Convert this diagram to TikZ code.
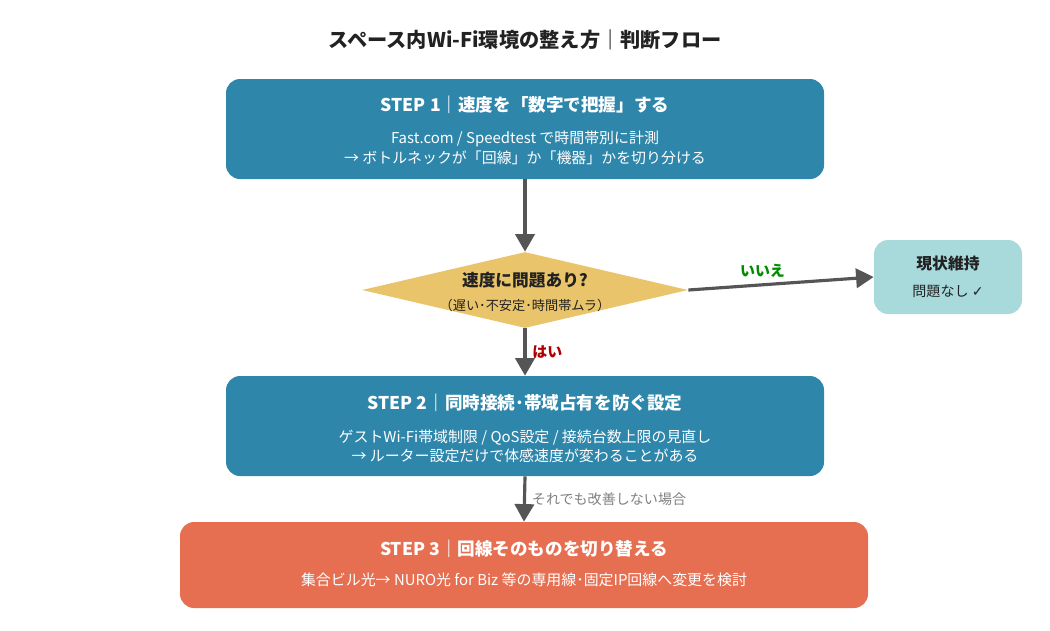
\documentclass[tikz,border=0pt]{standalone}
\usepackage{fontspec}
\setmainfont{Noto Sans CJK JP}
\newfontfamily\symfont{DejaVu Sans}
\usetikzlibrary{arrows.meta,shapes.geometric}
\definecolor{stepblue}{HTML}{2E86AB}
\definecolor{steporange}{HTML}{E76F51}
\definecolor{decyellow}{HTML}{E9C46A}
\definecolor{okcyan}{HTML}{A8DADC}
\definecolor{arrowgray}{HTML}{555555}
\definecolor{titledark}{HTML}{222222}
\begin{document}
\begin{tikzpicture}[x=0.02cm,y=-0.02cm,
  stepbox/.style={rounded corners=8pt, fill=stepblue, text=white, align=center, inner sep=0pt},
  flow/.style={draw=arrowgray, line width=1.8pt, -{Triangle[length=10pt,width=11pt]}},
  lbl/.style={font=\fontsize{8}{10}\selectfont}
]
\useasboundingbox (0,0) rectangle (1050,630);

% Title
\node[font=\fontsize{11.5}{14}\selectfont\bfseries, text=titledark] (title) at (525,40) {スペース内Wi-Fi環境の整え方｜判断フロー};

% Step boxes
\node[stepbox, minimum width=598*0.02cm, minimum height=100*0.02cm] (s1) at (525,129) {};
\node[font=\fontsize{10}{12}\selectfont\bfseries, text=white] at (525,105) {STEP 1｜速度を「数字で把握」する};
\node[font=\fontsize{8.5}{11}\selectfont, text=white, align=center] at (525,148) {Fast.com / Speedtest で時間帯別に計測\\→ ボトルネックが「回線」か「機器」かを切り分ける};

\node[shape=diamond, fill=decyellow, minimum width=326*0.02cm, minimum height=76*0.02cm, inner sep=0pt, aspect=4.3] (q) at (525,290) {};
\node[font=\fontsize{9.5}{12}\selectfont\bfseries, text=titledark] at (525,280) {速度に問題あり?};
\node[font=\fontsize{7.5}{10}\selectfont, text=titledark] at (525,305) {（遅い･不安定･時間帯ムラ）};

\node[rounded corners=8pt, fill=okcyan, minimum width=148*0.02cm, minimum height=74*0.02cm] (ok) at (948,277) {};
\node[font=\fontsize{9}{11}\selectfont\bfseries, text=titledark] at (948,264) {現状維持};
\node[font=\fontsize{8}{10}\selectfont, text=titledark] at (948,291) {問題なし {\symfont ✓}};

\node[stepbox, minimum width=598*0.02cm, minimum height=100*0.02cm] (s2) at (525,426) {};
\node[font=\fontsize{10}{12}\selectfont\bfseries, text=white] at (525,403) {STEP 2｜同時接続･帯域占有を防ぐ設定};
\node[font=\fontsize{8.5}{11}\selectfont, text=white, align=center] at (525,446) {ゲストWi-Fi帯域制限 / QoS設定 / 接続台数上限の見直し\\→ ルーター設定だけで体感速度が変わることがある};

\node[stepbox, fill=steporange, minimum width=688*0.02cm, minimum height=86*0.02cm] (s3) at (524,565) {};
\node[font=\fontsize{10}{12}\selectfont\bfseries, text=white] at (524,549) {STEP 3｜回線そのものを切り替える};
\node[font=\fontsize{8.5}{11}\selectfont, text=white] at (524,580) {集合ビル光→ NURO光 for Biz 等の専用線･固定IP回線へ変更を検討};

% Connectors
\draw[flow] (s1.south) -- (q.north);
\draw[flow] (q.east) -- (ok.west) node[pos=0.4, above, font=\fontsize{8.5}{10}\selectfont\bfseries, text=green!55!black] {いいえ};
\draw[flow] (q.south) -- (s2.north) node[midway, right, font=\fontsize{8.5}{10}\selectfont\bfseries, text=red!70!black] {はい};
\draw[flow] (s2.south) -- (s3.north) node[midway, right, lbl, text=gray] {それでも改善しない場合};
\end{tikzpicture}
\end{document}
